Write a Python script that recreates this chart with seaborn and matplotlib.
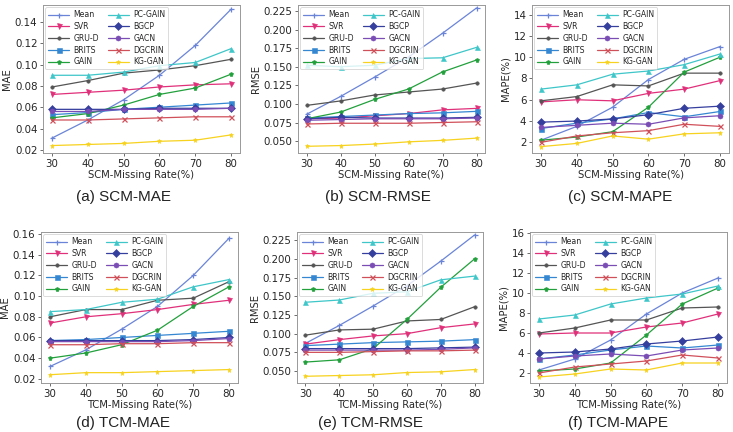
import numpy as np
import pandas as pd
import matplotlib
matplotlib.use("Agg")
import matplotlib.pyplot as plt
import seaborn as sns

rates = [30, 40, 50, 60, 70, 80]
methods = ["Mean", "SVR", "GRU-D", "BRITS", "GAIN",
           "PC-GAIN", "BGCP", "GACN", "DGCRIN", "KG-GAN"]

colors = {"Mean": "#6a84d8", "SVR": "#e0307a", "GRU-D": "#555555",
          "BRITS": "#3587d2", "GAIN": "#22a03c", "PC-GAIN": "#3ec6c9",
          "BGCP": "#353f9e", "GACN": "#7a4db5", "DGCRIN": "#d0505a",
          "KG-GAN": "#f7d21e"}
markers = {"Mean": "+", "SVR": "v", "GRU-D": ".", "BRITS": "s", "GAIN": "p",
           "PC-GAIN": "^", "BGCP": "D", "GACN": "o", "DGCRIN": "x",
           "KG-GAN": "*"}

# SCM
scm_mae = {
    "Mean": [0.031, 0.048, 0.067, 0.090, 0.118, 0.152],
    "SVR": [0.072, 0.074, 0.076, 0.079, 0.081, 0.082],
    "GRU-D": [0.079, 0.085, 0.092, 0.095, 0.099, 0.105],
    "BRITS": [0.053, 0.055, 0.058, 0.060, 0.062, 0.064],
    "GAIN": [0.050, 0.054, 0.062, 0.072, 0.078, 0.091],
    "PC-GAIN": [0.090, 0.090, 0.093, 0.099, 0.102, 0.115],
    "BGCP": [0.058, 0.058, 0.058, 0.059, 0.059, 0.059],
    "GACN": [0.056, 0.056, 0.058, 0.058, 0.058, 0.059],
    "DGCRIN": [0.048, 0.048, 0.049, 0.050, 0.051, 0.051],
    "KG-GAN": [0.024, 0.025, 0.026, 0.028, 0.029, 0.034],
}
scm_rmse = {
    "Mean": [0.086, 0.110, 0.136, 0.163, 0.195, 0.229],
    "SVR": [0.080, 0.081, 0.084, 0.087, 0.092, 0.094],
    "GRU-D": [0.098, 0.104, 0.112, 0.116, 0.120, 0.128],
    "BRITS": [0.081, 0.083, 0.085, 0.087, 0.088, 0.090],
    "GAIN": [0.080, 0.089, 0.106, 0.120, 0.143, 0.159],
    "PC-GAIN": [0.152, 0.150, 0.152, 0.161, 0.162, 0.176],
    "BGCP": [0.080, 0.082, 0.081, 0.081, 0.081, 0.082],
    "GACN": [0.078, 0.079, 0.080, 0.080, 0.080, 0.081],
    "DGCRIN": [0.073, 0.074, 0.074, 0.074, 0.075, 0.076],
    "KG-GAN": [0.043, 0.044, 0.046, 0.049, 0.051, 0.054],
}
scm_mape = {
    "Mean": [2.2, 3.5, 5.3, 7.9, 9.8, 11.0],
    "SVR": [5.8, 6.0, 5.9, 6.6, 7.0, 7.8],
    "GRU-D": [5.9, 6.3, 7.4, 7.3, 8.5, 8.5],
    "BRITS": [3.3, 3.8, 4.2, 4.8, 4.4, 4.9],
    "GAIN": [2.2, 2.5, 3.0, 5.3, 8.6, 10.0],
    "PC-GAIN": [7.0, 7.4, 8.4, 8.7, 9.3, 10.3],
    "BGCP": [3.9, 4.0, 4.2, 4.6, 5.2, 5.4],
    "GACN": [3.4, 3.6, 3.8, 3.7, 4.3, 4.5],
    "DGCRIN": [2.0, 2.6, 2.9, 3.1, 3.7, 3.5],
    "KG-GAN": [1.6, 1.9, 2.6, 2.3, 2.8, 2.9],
}
# TCM
tcm_mae = {
    "Mean": [0.032, 0.048, 0.068, 0.090, 0.120, 0.156],
    "SVR": [0.074, 0.080, 0.083, 0.087, 0.092, 0.096],
    "GRU-D": [0.080, 0.087, 0.087, 0.096, 0.098, 0.114],
    "BRITS": [0.057, 0.058, 0.060, 0.062, 0.064, 0.066],
    "GAIN": [0.040, 0.045, 0.053, 0.067, 0.090, 0.109],
    "PC-GAIN": [0.085, 0.087, 0.094, 0.097, 0.109, 0.116],
    "BGCP": [0.057, 0.057, 0.057, 0.057, 0.058, 0.060],
    "GACN": [0.056, 0.056, 0.056, 0.056, 0.057, 0.059],
    "DGCRIN": [0.053, 0.053, 0.054, 0.054, 0.055, 0.055],
    "KG-GAN": [0.024, 0.026, 0.026, 0.027, 0.028, 0.029],
}
tcm_rmse = {
    "Mean": [0.087, 0.111, 0.137, 0.164, 0.197, 0.232],
    "SVR": [0.086, 0.092, 0.097, 0.100, 0.108, 0.113],
    "GRU-D": [0.098, 0.105, 0.106, 0.117, 0.119, 0.136],
    "BRITS": [0.084, 0.086, 0.088, 0.089, 0.090, 0.092],
    "GAIN": [0.062, 0.065, 0.080, 0.119, 0.162, 0.200],
    "PC-GAIN": [0.142, 0.145, 0.154, 0.156, 0.172, 0.177],
    "BGCP": [0.080, 0.080, 0.080, 0.080, 0.081, 0.082],
    "GACN": [0.078, 0.078, 0.078, 0.078, 0.079, 0.081],
    "DGCRIN": [0.075, 0.075, 0.076, 0.077, 0.077, 0.078],
    "KG-GAN": [0.043, 0.044, 0.045, 0.048, 0.049, 0.052],
}
tcm_mape = {
    "Mean": [2.3, 3.4, 5.3, 7.9, 10.0, 11.5],
    "SVR": [5.9, 6.0, 6.0, 6.6, 7.0, 7.9],
    "GRU-D": [6.0, 6.5, 7.3, 7.3, 8.5, 8.6],
    "BRITS": [3.4, 3.8, 4.3, 4.7, 4.5, 4.8],
    "GAIN": [2.2, 2.4, 3.0, 5.8, 8.9, 10.5],
    "PC-GAIN": [7.4, 7.8, 8.9, 9.5, 9.9, 10.7],
    "BGCP": [4.0, 4.1, 4.4, 4.9, 5.2, 5.6],
    "GACN": [3.4, 3.7, 3.9, 3.7, 4.3, 4.5],
    "DGCRIN": [2.0, 2.6, 2.9, 3.2, 3.8, 3.5],
    "KG-GAN": [1.6, 1.9, 2.4, 2.3, 3.0, 3.0],
}

panels = [
    (scm_mae, "MAE", "SCM-Missing Rate(%)", "(a) SCM-MAE", [0.02, 0.04, 0.06, 0.08, 0.10, 0.12, 0.14], (0.017, 0.156), "%.2f"),
    (scm_rmse, "RMSE", "SCM-Missing Rate(%)", "(b) SCM-RMSE", [0.05, 0.075, 0.1, 0.125, 0.15, 0.175, 0.2, 0.225], (0.034, 0.233), "%.3f"),
    (scm_mape, "MAPE(%)", "SCM-Missing Rate(%)", "(c) SCM-MAPE", [2, 4, 6, 8, 10, 12, 14], (1.0, 14.9), "%d"),
    (tcm_mae, "MAE", "TCM-Missing Rate(%)", "(d) TCM-MAE", [0.02, 0.04, 0.06, 0.08, 0.10, 0.12, 0.14, 0.16], (0.016, 0.162), "%.2f"),
    (tcm_rmse, "RMSE", "TCM-Missing Rate(%)", "(e) TCM-RMSE", [0.05, 0.075, 0.1, 0.125, 0.15, 0.175, 0.2, 0.225], (0.034, 0.236), "%.3f"),
    (tcm_mape, "MAPE(%)", "TCM-Missing Rate(%)", "(f) TCM-MAPE", [2, 4, 6, 8, 10, 12, 14, 16], (1.0, 16.1), "%d"),
]

# axes boxes in pixels: left, right, top, bottom
boxes = [(43, 240, 5, 153), (298, 485, 5, 153), (532, 729, 5, 153),
         (41, 238, 232, 383), (297, 483, 232, 383), (530, 727, 232, 383)]
caption_pos = [(123, 197), (378, 197), (620, 197), (123, 423), (370, 423), (618, 423)]

W, H = 733, 432
sns.set_style("white")
fig = plt.figure(figsize=(W / 100, H / 100), dpi=100)

for (data, ylab, xlab, cap, yt, ylim, fmt), (l, r, t, b), (cx, cy) in zip(panels, boxes, caption_pos):
    ax = fig.add_axes([l / W, 1 - b / H, (r - l) / W, (b - t) / H])
    for m in methods:
        df = pd.DataFrame({"rate": rates, "val": data[m]})
        sns.lineplot(data=df, x="rate", y="val", ax=ax, color=colors[m],
                     marker=markers[m], markersize=3.6 if m != "GRU-D" else 5,
                     markeredgewidth=0.9 if m in ("Mean", "DGCRIN") else 0.4,
                     markeredgecolor=colors[m], linewidth=0.9, label=m)
    ax.set_xlim(27.5, 82.5)
    ax.set_xticks(rates)
    ax.set_ylim(*ylim)
    ax.set_yticks(yt)
    ax.set_yticklabels([fmt % v for v in yt])
    ax.set_xlabel(xlab, fontsize=7.2, labelpad=1)
    ax.set_ylabel(ylab, fontsize=7.2, labelpad=2)
    ax.tick_params(axis="both", labelsize=7.4, length=2.5, width=0.6,
                   pad=1.5, color="#555555", left=True, bottom=True)
    for s in ax.spines.values():
        s.set_color("#999999")
        s.set_linewidth(0.7)
    leg = ax.legend(loc="upper left", ncol=2, fontsize=5.6, frameon=True,
                    borderpad=0.4, labelspacing=0.35, handlelength=2.6,
                    handletextpad=0.6, columnspacing=1.2,
                    bbox_to_anchor=(0.0, 1.0), borderaxespad=0.3)
    leg.get_frame().set_edgecolor("#cccccc")
    leg.get_frame().set_linewidth(0.6)
    fig.text(cx / W, 1 - cy / H, cap, ha="center", va="center",
             fontsize=11, family="Liberation Sans", color="#222222")

fig.savefig("out.png", dpi=100)
